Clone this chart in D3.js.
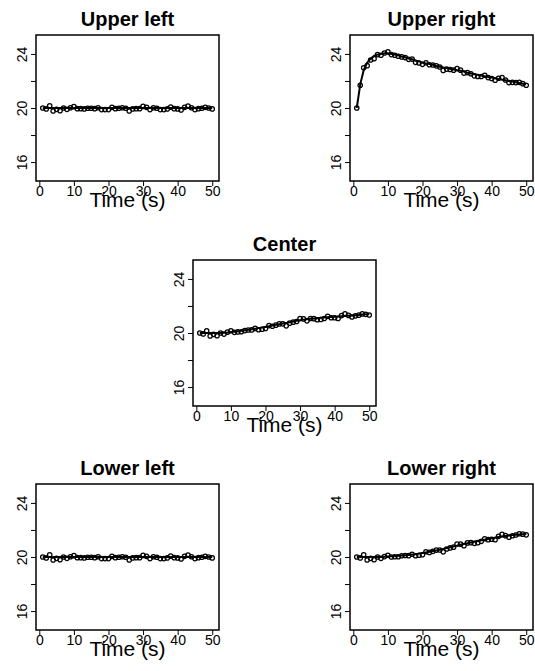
<!DOCTYPE html>
<html>
<head>
<meta charset="utf-8">
<script src="https://cdn.jsdelivr.net/npm/d3@7"></script>
<style>
  html, body { margin: 0; padding: 0; background: #fff; }
  svg { display: block; }
  text { font-family: "Liberation Sans", Arial, sans-serif; fill: #000; }
</style>
</head>
<body>
<svg id="chart" width="535" height="671"></svg>
<script>
// ---- data ----
const time = [1,2,3,4,5,6,7,8,9,10,11,12,13,14,15,16,17,18,19,20,21,22,23,24,25,26,27,28,29,30,31,32,33,34,35,36,37,38,39,40,41,42,43,44,45,46,47,48,49,50];

const panelTitles = ["Upper left", "Upper right", "Center", "Lower left", "Lower right"];
const xTicks = [0, 10, 20, 30, 40, 50];
const yTicks = [16, 18, 20, 22, 24];
const yTickLabels = ["16", "", "20", "", "24"];
const xLabel = "Time (s)";

const upperLeftValues = [20.00,19.93,20.17,19.78,19.90,19.80,20.00,19.90,20.02,20.10,19.95,19.95,19.93,19.98,19.98,19.95,20.02,19.88,19.88,19.88,20.05,19.95,19.98,20.02,19.98,19.78,19.93,19.95,19.95,20.12,20.05,19.88,20.02,19.98,19.88,19.88,19.93,20.07,19.95,19.93,19.85,20.05,20.15,20.02,19.88,19.95,19.98,20.05,20.00,19.93];
const upperLeftTrend = [20,20,20,20,20,20,20,20,20,20,20,20,20,20,20,20,20,20,20,20,20,20,20,20,20,20,20,20,20,20,20,20,20,20,20,20,20,20,20,20,20,20,20,20,20,20,20,20,20,20];

const upperRightValues = [20.00,21.68,22.97,23.13,23.55,23.65,23.95,23.90,24.07,24.15,23.95,23.90,23.83,23.78,23.73,23.60,23.62,23.38,23.33,23.23,23.35,23.20,23.18,23.12,23.03,22.78,22.88,22.85,22.80,22.92,22.80,22.58,22.62,22.53,22.38,22.33,22.33,22.42,22.25,22.18,22.05,22.20,22.25,22.07,21.88,21.90,21.88,21.90,21.80,21.68];
const upperRightTrend = [20.00,21.75,22.80,23.35,23.65,23.85,23.95,24.00,24.05,24.05,24.00,23.95,23.90,23.80,23.75,23.65,23.60,23.50,23.45,23.35,23.30,23.25,23.20,23.10,23.05,23.00,22.95,22.90,22.85,22.80,22.75,22.70,22.60,22.55,22.50,22.45,22.40,22.35,22.30,22.25,22.20,22.15,22.10,22.05,22.00,21.95,21.90,21.85,21.80,21.75];

const centerValues = [20.00,19.93,20.17,19.78,19.90,19.80,20.00,19.92,20.06,20.17,20.05,20.08,20.09,20.18,20.22,20.23,20.34,20.24,20.28,20.33,20.55,20.50,20.58,20.67,20.68,20.53,20.73,20.80,20.85,21.07,21.04,20.90,21.07,21.06,20.98,21.00,21.07,21.23,21.13,21.13,21.07,21.29,21.41,21.30,21.18,21.27,21.32,21.41,21.38,21.33];
const centerTrend = [20,20,20,20,20,20,20,20.02,20.04,20.07,20.10,20.13,20.16,20.20,20.24,20.28,20.32,20.36,20.40,20.45,20.50,20.55,20.60,20.65,20.70,20.75,20.80,20.85,20.90,20.95,20.99,21.02,21.05,21.08,21.10,21.12,21.14,21.16,21.18,21.20,21.22,21.24,21.26,21.28,21.30,21.32,21.34,21.36,21.38,21.40];

const lowerLeftValues = [20.00,19.93,20.17,19.78,19.90,19.80,20.00,19.90,20.02,20.10,19.95,19.95,19.93,19.98,19.98,19.95,20.02,19.88,19.88,19.88,20.05,19.95,19.98,20.02,19.98,19.78,19.93,19.95,19.95,20.12,20.05,19.88,20.02,19.98,19.88,19.88,19.93,20.07,19.95,19.93,19.85,20.05,20.15,20.02,19.88,19.95,19.98,20.05,20.00,19.93];
const lowerLeftTrend = [20,20,20,20,20,20,20,20,20,20,20,20,20,20,20,20,20,20,20,20,20,20,20,20,20,20,20,20,20,20,20,20,20,20,20,20,20,20,20,20,20,20,20,20,20,20,20,20,20,20];

const lowerRightValues = [20.00,19.93,20.17,19.78,19.90,19.80,20.00,19.90,20.03,20.13,20.00,20.02,20.02,20.09,20.11,20.10,20.20,20.09,20.13,20.17,20.39,20.34,20.42,20.51,20.52,20.38,20.59,20.67,20.73,20.96,20.95,20.84,21.04,21.06,21.01,21.06,21.16,21.35,21.28,21.31,21.28,21.53,21.67,21.58,21.47,21.57,21.63,21.72,21.69,21.64];
const lowerRightTrend = [20,20,20,20,20,20,20,20,20.01,20.03,20.05,20.07,20.09,20.11,20.13,20.15,20.18,20.21,20.25,20.29,20.34,20.39,20.44,20.49,20.54,20.60,20.66,20.72,20.78,20.84,20.90,20.96,21.02,21.08,21.13,21.18,21.23,21.28,21.33,21.38,21.43,21.48,21.52,21.56,21.59,21.62,21.65,21.67,21.69,21.71];

const panelValues = [upperLeftValues, upperRightValues, centerValues, lowerLeftValues, lowerRightValues];
const panelTrends = [upperLeftTrend, upperRightTrend, centerTrend, lowerLeftTrend, lowerRightTrend];

// ---- layout ----
const boxW = 183, boxH = 146;
const panelPos = [
  {x: 36, y: 35},
  {x: 350, y: 35},
  {x: 193, y: 260},
  {x: 36, y: 484},
  {x: 350, y: 484}
];

const svg = d3.select("#chart");

// R-style axis ranges: x from data with 4% extension, ylim 15..25 with 4% extension
const xMin = 1, xMax = 50, xPad = (xMax - xMin) * 0.04;
const yMin = 15, yMax = 25, yPad = (yMax - yMin) * 0.04;

panelTitles.forEach((title, i) => {
  const p = panelPos[i];
  const g = svg.append("g").attr("transform", `translate(${p.x},${p.y})`);

  const x = d3.scaleLinear().domain([xMin - xPad, xMax + xPad]).range([0, boxW]);
  const y = d3.scaleLinear().domain([yMin - yPad, yMax + yPad]).range([boxH, 0]);

  // x axis
  const xAxis = d3.axisBottom(x).tickValues(xTicks).tickSize(5).tickPadding(0.5).tickFormat(d3.format("d"));
  const gx = g.append("g").attr("transform", `translate(0,${boxH})`).call(xAxis);
  gx.select(".domain").remove();
  gx.selectAll(".tick line").attr("stroke", "#000").attr("stroke-width", 1);
  gx.selectAll(".tick text").attr("font-size", "14px").attr("fill", "#000")
    .style("font-family", "'Liberation Sans', Arial, sans-serif");

  // y axis
  const yAxis = d3.axisLeft(y).tickValues(yTicks).tickSize(5).tickPadding(4)
    .tickFormat((d, k) => yTickLabels[k]);
  const gy = g.append("g").call(yAxis);
  gy.select(".domain").remove();
  gy.selectAll(".tick line").attr("stroke", "#000").attr("stroke-width", 1);
  gy.selectAll(".tick text")
    .attr("font-size", "14px").attr("fill", "#000")
    .style("font-family", "'Liberation Sans', Arial, sans-serif")
    .attr("text-anchor", "middle")
    .attr("dy", null)
    .attr("x", null)
    .attr("transform", "translate(-9.5,0) rotate(-90)")
    .attr("y", 0);

  // trend line
  const line = d3.line().x((d, k) => x(time[k])).y(d => y(d));
  g.append("path").datum(panelTrends[i])
    .attr("d", line).attr("fill", "none").attr("stroke", "#000").attr("stroke-width", 2);

  // points
  g.append("g").selectAll("circle").data(panelValues[i]).join("circle")
    .attr("cx", (d, k) => x(time[k])).attr("cy", d => y(d))
    .attr("r", 2.2).attr("fill", "none").attr("stroke", "#000").attr("stroke-width", 1.25);

  // box
  g.append("rect").attr("x", 0).attr("y", 0).attr("width", boxW).attr("height", boxH)
    .attr("fill", "none").attr("stroke", "#000").attr("stroke-width", 1.5);

  // title
  g.append("text").attr("x", boxW / 2).attr("y", -9.5).attr("text-anchor", "middle")
    .attr("font-size", "20px").attr("font-weight", "bold").text(title);

  // x label
  g.append("text").attr("x", boxW / 2).attr("y", boxH + 26).attr("text-anchor", "middle")
    .attr("font-size", "21px").text(xLabel);
});
</script>
</body>
</html>
